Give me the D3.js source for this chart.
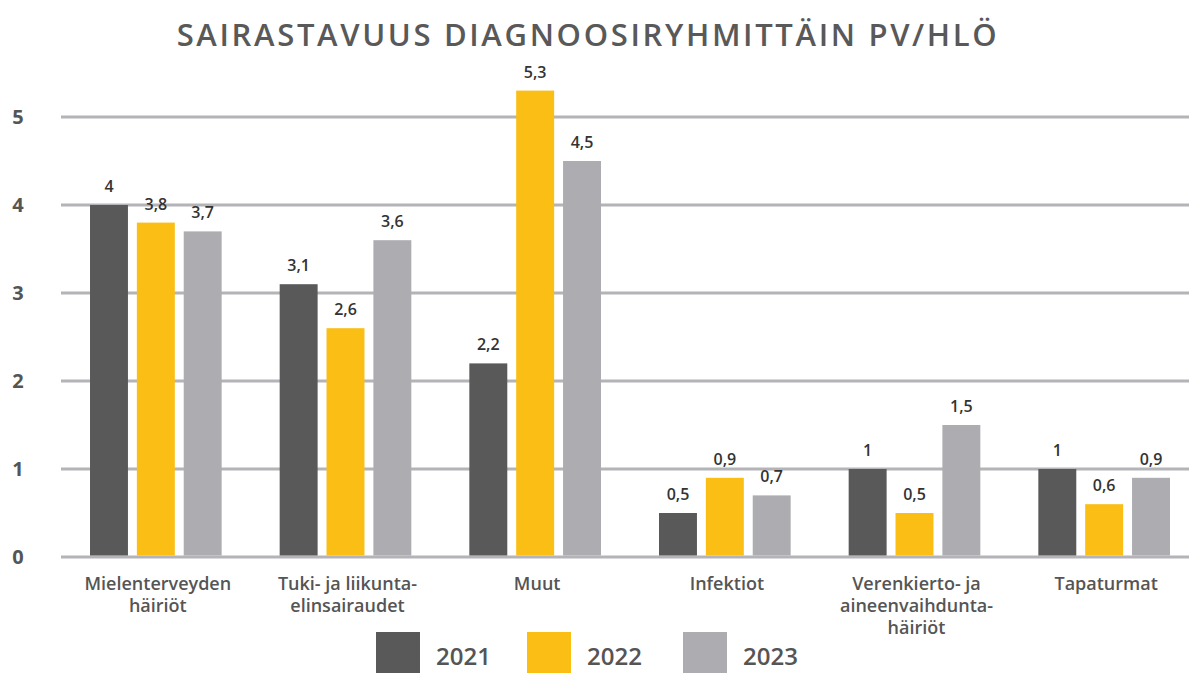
<!DOCTYPE html>
<html>
<head>
<meta charset="utf-8">
<script src="https://cdn.jsdelivr.net/npm/d3@7"></script>
<style>
  body { margin: 0; background: #fff; }
  svg { display: block; font-family: "Open Sans", sans-serif; }
</style>
</head>
<body>
<script>
const categories = [
    ["Mielenterveyden", "häiriöt"],
    ["Tuki- ja liikunta-", "elinsairaudet"],
    ["Muut"],
    ["Infektiot"],
    ["Verenkierto- ja", "aineenvaihdunta-", "häiriöt"],
    ["Tapaturmat"]
];
const years = ["2021", "2022", "2023"];
const values2021 = [4, 3.1, 2.2, 0.5, 1, 1];
const values2022 = [3.8, 2.6, 5.3, 0.9, 0.5, 0.6];
const values2023 = [3.7, 3.6, 4.5, 0.7, 1.5, 0.9];
const yTicks = [0, 1, 2, 3, 4, 5];
const colors = ["#595959", "#fbbe14", "#adadb1"];

const W = 1189, H = 673;
const margin = { top: 117, left: 61, right: -10, bottom: 116 };
const width = W - margin.left - margin.right;
const height = H - margin.top - margin.bottom;

const series = [values2021, values2022, values2023];
const fmt = d => String(d).replace(".", ",");

const svg = d3.select("body").append("svg")
    .attr("width", W)
    .attr("height", H);

svg.append("text")
    .attr("x", 588)
    .attr("y", 46)
    .attr("text-anchor", "middle")
    .attr("font-size", 31)
    .attr("font-weight", 600)
    .attr("letter-spacing", 2.65)
    .attr("fill", "#595959")
    .text("SAIRASTAVUUS DIAGNOOSIRYHMITTÄIN PV/HLÖ");

const g = svg.append("g")
    .attr("transform", `translate(${margin.left},${margin.top})`);

const x0 = d3.scaleBand()
    .domain(d3.range(categories.length))
    .range([0, width]);

const x1 = d3.scaleBand()
    .domain(years)
    .range([29, x0.bandwidth() - 29])
    .paddingInner(0.19);

const y = d3.scaleLinear()
    .domain([0, 5])
    .range([height, 0]);

// gridlines
g.selectAll(".grid")
    .data(yTicks)
    .join("line")
    .attr("class", "grid")
    .attr("x1", 0)
    .attr("x2", width)
    .attr("y1", d => y(d))
    .attr("y2", d => y(d))
    .attr("stroke", "#b4b4b8")
    .attr("stroke-width", 3);

// y tick labels
svg.append("g")
    .selectAll("text")
    .data(yTicks)
    .join("text")
    .attr("x", 18)
    .attr("y", d => margin.top + y(d))
    .attr("dy", "0.36em")
    .attr("text-anchor", "middle")
    .attr("font-size", 20)
    .attr("font-weight", 700)
    .attr("fill", "#555")
    .text(d => d);

const group = g.selectAll(".group")
    .data(categories)
    .join("g")
    .attr("class", "group")
    .attr("transform", (d, i) => `translate(${x0(i)},0)`);

const barData = (d, i) => years.map((yr, k) => ({ year: yr, k, value: series[k][i] }));

group.selectAll("rect")
    .data(barData)
    .join("rect")
    .attr("x", d => x1(d.year))
    .attr("width", x1.bandwidth())
    .attr("y", d => y(d.value))
    .attr("height", d => y(0) - y(d.value) - 1.5)
    .attr("fill", d => colors[d.k]);

group.selectAll(".val")
    .data(barData)
    .join("text")
    .attr("class", "val")
    .attr("x", d => x1(d.year) + x1.bandwidth() / 2)
    .attr("y", d => y(d.value) - 13)
    .attr("text-anchor", "middle")
    .attr("font-size", 16)
    .attr("font-weight", 600)
    .attr("fill", "#333")
    .text(d => fmt(d.value));

// category labels
group.append("text")
    .attr("x", x0.bandwidth() / 2 + 2)
    .attr("y", height + 33)
    .attr("text-anchor", "middle")
    .attr("font-size", 18)
    .attr("font-weight", 600)
    .attr("fill", "#555")
    .selectAll("tspan")
    .data(d => d)
    .join("tspan")
    .attr("x", x0.bandwidth() / 2 + 2)
    .attr("dy", (d, i) => i === 0 ? 0 : 22)
    .text(d => d);

// legend
const legendX = [376, 527, 683];
const legend = svg.append("g")
    .selectAll("g")
    .data(years)
    .join("g")
    .attr("transform", (d, i) => `translate(${legendX[i]},632)`);

legend.append("rect")
    .attr("width", 44)
    .attr("height", 41)
    .attr("fill", (d, i) => colors[i]);

legend.append("text")
    .attr("x", 60)
    .attr("y", 33)
    .attr("font-size", 24)
    .attr("font-weight", 600)
    .attr("fill", "#555")
    .text(d => d);
</script>
</body>
</html>
